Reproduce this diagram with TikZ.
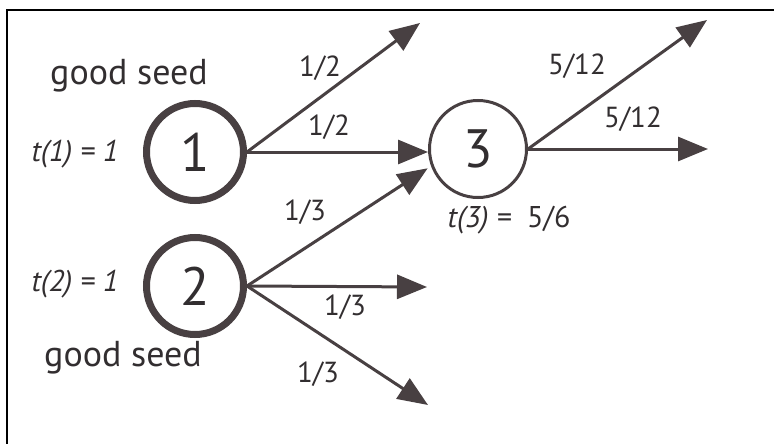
\documentclass[tikz,border=0pt]{standalone}
\usepackage{fontspec}
\setmainfont{PT Sans}
\usetikzlibrary{arrows.meta}
\definecolor{ink}{RGB}{72,64,66}
\definecolor{txt}{RGB}{50,46,48}
\begin{document}
\begin{tikzpicture}[x=1pt,y=1pt,
  seed/.style={circle,draw=ink,line width=7pt,minimum size=97pt,inner sep=0pt,font=\fontsize{54}{54}\selectfont,text=txt},
  plain/.style={circle,draw=ink,line width=3pt,minimum size=97pt,inner sep=0pt,font=\fontsize{54}{54}\selectfont,text=txt},
  lab/.style={font=\fontsize{29}{32}\selectfont,text=txt,inner sep=0pt},
  tlab/.style={font=\fontsize{30}{34}\selectfont,text=txt,inner sep=0pt},
  big/.style={font=\fontsize{36}{40}\selectfont,text=txt,inner sep=0pt},
  arr/.style={draw=ink,line width=3pt,-{Triangle[length=30pt,width=24pt]}}]
\useasboundingbox (0,0) rectangle (774,-444);
\draw[line width=2pt] (7,-460) -- (7,-10) -- (790,-10);
% nodes
\node[seed] (n1) at (195,-152) {1};
\node[seed] (n2) at (195,-286) {2};
\node[plain] (n3) at (478,-149) {3};
% free ends
\coordinate (a1) at (420,-23);
\coordinate (a2) at (427,-287);
\coordinate (a3) at (428,-405);
\coordinate (a4) at (707,-20);
\coordinate (a5) at (708,-149);
% connectors
\draw[arr] (n1.east) -- (a1);
\draw[arr] (n1.east) -- (n1.east -| n3.west);
\draw[arr,shorten >=4pt] (n2.east) -- (n3.200);
\draw[arr] (n2.east) -- (a2);
\draw[arr] (n2.east) -- (a3);
\draw[arr] (n3.east) -- (a4);
\draw[arr] (n3.east) -- (a5);
% labels
\node[big] (g1) at (129,-76) {good seed};
\node[big] (g2) at (123,-358) {good seed};
\node[tlab] (t1) at (75,-154) {\itshape t(1) = 1};
\node[tlab] (t2) at (75,-284) {\itshape t(2) = 1};
\node[tlab] (t3) at (509,-220) {\itshape t(3) =\upshape\ \ 5/6};
\node[lab] (l1) at (320,-68) {1/2};
\node[lab] (l2) at (329,-127) {1/2};
\node[lab] (l3) at (305,-212) {1/3};
\node[lab] (l4) at (345,-307) {1/3};
\node[lab] (l5) at (318,-374) {1/3};
\node[lab] (l6) at (577,-66) {5/12};
\node[lab] (l7) at (633,-119) {5/12};
\end{tikzpicture}
\end{document}
